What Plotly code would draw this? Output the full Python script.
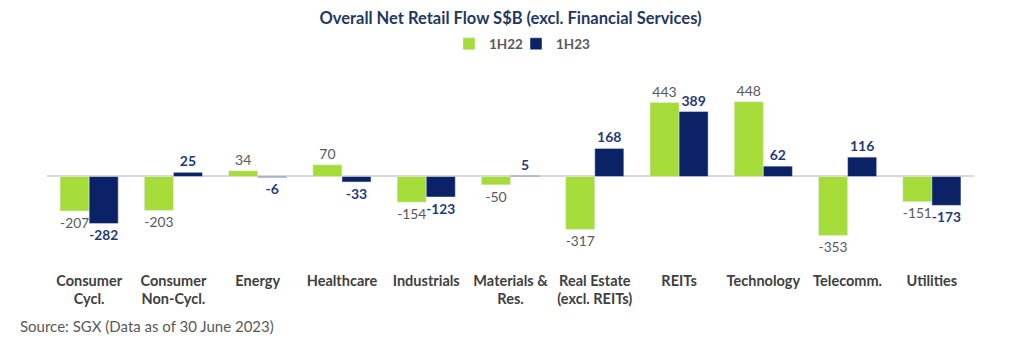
import plotly.graph_objects as go

categories = ["Consumer<br>Cycl.", "Consumer<br>Non-Cycl.", "Energy", "Healthcare", "Industrials",
              "Materials &<br>Res.", "Real Estate<br>(excl. REITs)", "REITs", "Technology", "Telecomm.", "Utilities"]
h122 = [-207, -203, 34, 70, -154, -50, -317, 443, 448, -353, -151]
h123 = [-282, 25, -6, -33, -123, 5, 168, 389, 62, 116, -173]

GREEN = "#A6DC3A"
NAVY = "#0C2266"
FONT = "Lato"

fig = go.Figure()
fig.add_trace(go.Bar(
    name="1H22", x=categories, y=h122, marker_color=GREEN,
    text=[str(v) for v in h122], textposition="outside",
    textfont=dict(family=FONT, size=14, color="#595959"),
    cliponaxis=False, legend="legend", showlegend=True,
))
fig.add_trace(go.Bar(
    name="1H23", x=categories, y=h123, marker_color=NAVY,
    text=["<b>%d</b>" % v for v in h123], textposition="outside",
    textfont=dict(family=FONT, size=14, color="#1F3A7A"),
    cliponaxis=False, legend="legend2", showlegend=True,
))

legend_style = dict(orientation="h", xref="container", yref="container",
                    y=1 - 44 / 354, yanchor="middle", xanchor="left",
                    font=dict(family=FONT, size=13.5, color="#595959", weight="bold"),
                    itemwidth=30, bgcolor="rgba(0,0,0,0)", visible=True)

fig.update_layout(
    width=1024, height=354,
    showlegend=True,
    margin=dict(l=47, r=50, t=93, b=83.5),
    paper_bgcolor="white", plot_bgcolor="white",
    barmode="group", bargap=0.31, bargroupgap=0,
    font=dict(family=FONT),
    title=dict(text="<b>Overall Net Retail Flow S$B (excl. Financial Services)</b>",
               x=0.5, xref="paper", xanchor="center", y=1 - 18 / 354, yref="container", yanchor="middle",
               font=dict(family=FONT, size=16.5, color="#1F3864")),
    legend=dict(legend_style, x=449 / 1024),
    legend2=dict(legend_style, x=516 / 1024),
)
fig.update_xaxes(showgrid=False, showline=False, ticks="",
                 tickfont=dict(family=FONT, size=14.5, color="#404040", weight="bold"))
fig.update_yaxes(range=[-560, 500], showgrid=False, showticklabels=False, ticks="",
                 zeroline=True, zerolinecolor="#D9D9D9", zerolinewidth=2)

fig.add_annotation(text="Source: SGX (Data as of 30 June 2023)", xref="paper", yref="paper",
                   x=-29 / 927, y=0, yshift=-56, xanchor="left", yanchor="middle", showarrow=False,
                   font=dict(family=FONT, size=15, color="#595959"))

fig.write_html("out.html")
